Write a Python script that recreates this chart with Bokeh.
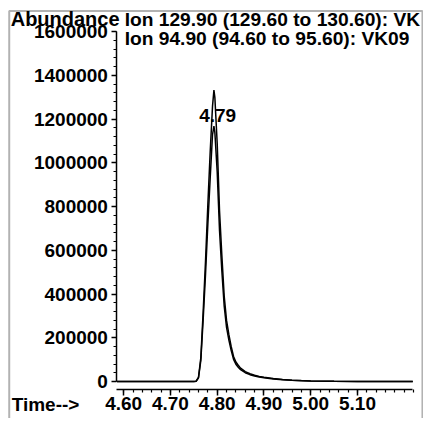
import numpy as np
from bokeh.plotting import figure
from bokeh.models import (Range1d, FixedTicker, NumeralTickFormatter, Label,
                          PolyAnnotation)
from bokeh.embed import file_html
from bokeh.resources import INLINE

# ---------------- data ----------------
time_min = [4.5855, 4.60, 4.65, 4.70, 4.73, 4.75, 4.755, 4.760, 4.765, 4.770,
            4.775, 4.780, 4.785, 4.790, 4.793, 4.795, 4.800, 4.805, 4.810,
            4.815, 4.820, 4.825, 4.830, 4.835, 4.840, 4.845, 4.850, 4.860,
            4.870, 4.880, 4.890, 4.900, 4.920, 4.940, 4.960, 4.980, 5.000,
            5.050, 5.100, 5.150, 5.2183]

ion_129_90 = [800, 800, 900, 900, 1000, 1200, 2000, 20000, 110000, 320000,
              550000, 810000, 1050000, 1260000, 1333000, 1300000, 1090000,
              780000, 575000, 390000, 280000, 215000, 160000, 115000, 90000,
              75000, 62000, 46000, 36000, 29000, 24000, 20000, 14000, 10000,
              7000, 5000, 3500, 2000, 1300, 800, 500]

ion_94_90 = [700, 700, 800, 800, 900, 1100, 2000, 18000, 97000, 285000,
             490000, 720000, 930000, 1130000, 1168000, 1140000, 960000,
             690000, 505000, 345000, 248000, 190000, 142000, 102000, 80000,
             66000, 55000, 41000, 32000, 26000, 21000, 18000, 12500, 9000,
             6500, 4500, 3200, 1800, 1100, 700, 400]

x_ticks = [4.60, 4.70, 4.80, 4.90, 5.00, 5.10]
y_ticks = [0, 200000, 400000, 600000, 800000, 1000000, 1200000, 1400000, 1600000]

peak_rt = 4.79
peak_rt_label = "4.79"
title_line1 = "Ion 129.90 (129.60 to 130.60): VK"
title_line2 = "Ion  94.90 (94.60 to 95.60): VK09"

# ---------------- layout ----------------
W, H = 423, 418
SX, SY = 0.97, 0.965                    # squeeze of the 439x434 page into the canvas
PX_PER_X = 482.0 * SX                    # pixels per minute
PX_PER_Y = 45.33 * SY / 200000.0         # pixels per abundance unit
X460_PX = 127 * SX                       # canvas x of 4.60 min
Y0_PX = 395 * SY                         # canvas y of abundance 0
LABEL_LIFT = 6.5                         # px: baseline correction for labels

X_START = 4.60 - X460_PX / PX_PER_X
X_END = 4.60 + (W - X460_PX) / PX_PER_X
Y_END = Y0_PX / PX_PER_Y
Y_START = -(H - Y0_PX) / PX_PER_Y

AXIS_X = 4.5855                          # where the vertical axis stands
AXIS_Y = -8 * SY / PX_PER_Y              # where the time axis stands (below zero)
TIME_END = 5.2183

def rx(px):   # page x -> data x
    return X_START + px * SX / PX_PER_X

def ry(py):   # page y -> data y
    return Y_END - py * SY / PX_PER_Y

def ry_text(py):  # page baseline y -> data y for a Label
    return ry(py) + LABEL_LIFT / PX_PER_Y

FONT = "Liberation Sans"

p = figure(width=W, height=H, output_backend="svg", toolbar_location=None,
           x_range=Range1d(X_START, X_END), y_range=Range1d(Y_START, Y_END),
           min_border=0, min_border_left=0, min_border_right=0,
           min_border_top=0, min_border_bottom=0,
           background_fill_color="white", border_fill_color="white")
p.outline_line_color = None
p.grid.visible = False

p.line(time_min, ion_129_90, line_color="black", line_width=1.5)
p.line(time_min, ion_94_90, line_color="black", line_width=1.5)

# x axis
xa = p.xaxis[0]
xa.fixed_location = AXIS_Y
xa.ticker = FixedTicker(ticks=x_ticks,
                        minor_ticks=list(np.round(np.arange(4.60, 5.2201, 0.02), 2)))
xa.formatter = NumeralTickFormatter(format="0.00")
xa.bounds = (AXIS_X, TIME_END)
xa.axis_line_width = 1.5
xa.major_tick_line_width = 1.5
xa.minor_tick_line_width = 1.2
xa.major_tick_in = 0
xa.major_tick_out = 6
xa.minor_tick_in = 0
xa.minor_tick_out = 3
xa.major_label_standoff = 2
xa.major_label_text_font = FONT
xa.major_label_text_font_style = "bold"
xa.major_label_text_font_size = "19px"
xa.major_label_text_color = "black"

# y axis
ya = p.yaxis[0]
ya.fixed_location = AXIS_X
ya.ticker = FixedTicker(ticks=y_ticks,
                        minor_ticks=list(np.arange(0, 1600001, 40000)))
ya.formatter = NumeralTickFormatter(format="0")
ya.bounds = (0, 1600000)
ya.axis_line_width = 1.5
ya.major_tick_line_width = 1.5
ya.minor_tick_line_width = 1.2
ya.major_tick_in = 0
ya.major_tick_out = 5
ya.minor_tick_in = 0
ya.minor_tick_out = 3
ya.major_label_standoff = 4
ya.major_label_text_font = FONT
ya.major_label_text_font_style = "bold"
ya.major_label_text_font_size = "19px"
ya.major_label_text_color = "black"

def add_text(txt, x, y, size="20px", align="left"):
    p.add_layout(Label(x=x, y=y, text=txt, text_font=FONT,
                       text_font_style="bold", text_font_size=size,
                       text_color="black", text_align=align,
                       text_baseline="alphabetic"))

add_text("Abundance", rx(10.5), ry_text(26), "20px")
add_text(title_line1, rx(128), ry_text(26), "19.2px")
add_text(title_line2, rx(128), ry_text(46.5), "19.2px")
add_text("Time-->", rx(11.5), ry_text(425.4), "19px")
add_text(peak_rt_label, peak_rt + 0.011, ry_text(125.7), "19px", "center")

# outer box (left, top, right edges)
p.add_layout(PolyAnnotation(xs=[rx(9), rx(9), rx(435), rx(435)],
                            ys=[ry(470), ry(11), ry(11), ry(470)],
                            fill_alpha=0, line_color="black", line_width=2))

open("out.html", "w").write(file_html(p, INLINE))
